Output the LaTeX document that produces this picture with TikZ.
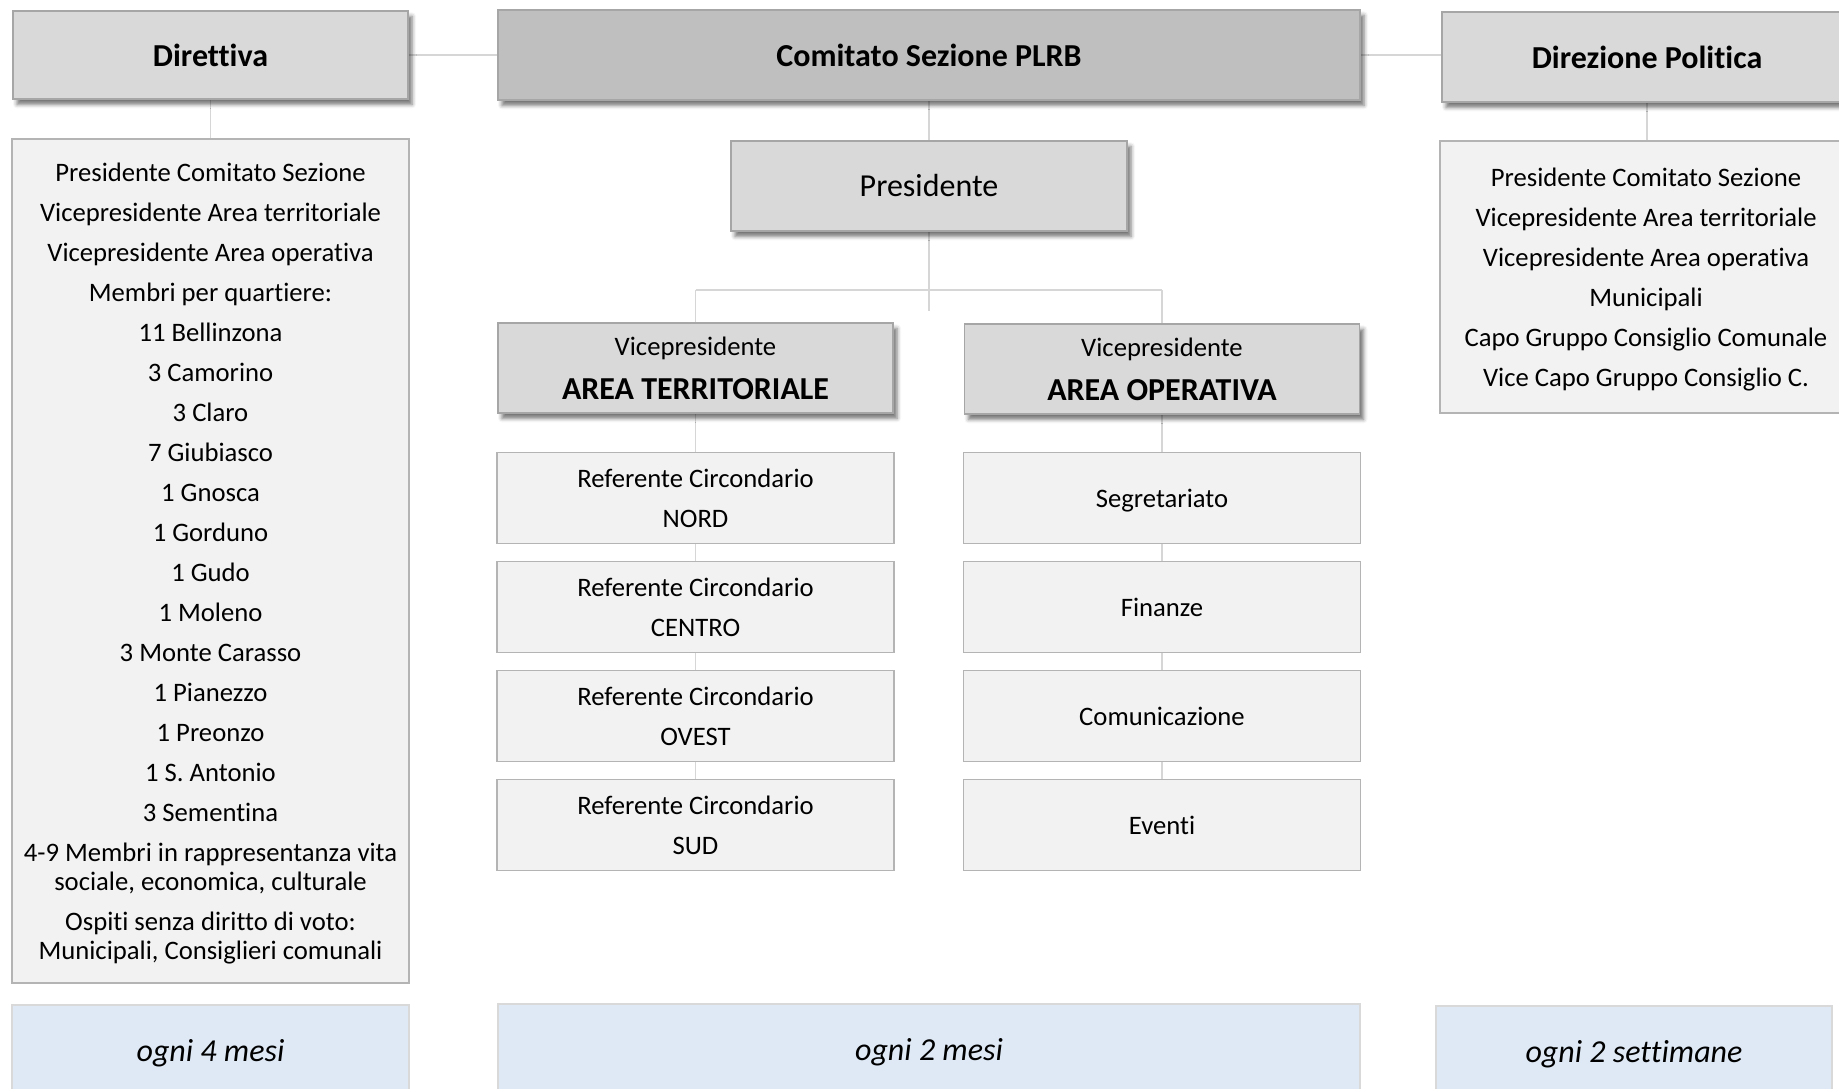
\documentclass[tikz,border=0pt]{standalone}
\usepackage{fontspec}
\setmainfont[RawFeature={-liga;-clig}]{Carlito}
\usetikzlibrary{shadows.blur}
\definecolor{hdr}{HTML}{D9D9D9}
\definecolor{hdrdark}{HTML}{BFBFBF}
\definecolor{innerfill}{HTML}{F2F2F2}
\definecolor{edgegray}{HTML}{A6A6A6}
\definecolor{innergray}{HTML}{B4B4B4}
\definecolor{linkgray}{HTML}{D6D6D6}
\definecolor{freq}{HTML}{DEE9F5}
\definecolor{freqedge}{HTML}{D9D9D9}
\pgfdeclarelayer{bg}
\pgfsetlayers{bg,main}
\begin{document}
\begin{tikzpicture}[x=0.75pt,y=-0.75pt,
  hbox/.style={draw=edgegray, line width=1.1pt, fill=hdr, inner sep=0pt, align=center, text=black,
    blur shadow={shadow xshift=3pt, shadow yshift=-4pt, shadow blur radius=3pt, shadow opacity=55}},
  hfont/.style={font=\fontsize{24}{28}\selectfont\bfseries},
  ibox/.style={draw=innergray, line width=1.1pt, fill=innerfill, inner sep=0pt, align=center, text=black},
  colbox/.style={ibox, minimum width=297.75pt, minimum height=68.25pt, font=\fontsize{20}{30}\selectfont},
  fbox/.style={draw=freqedge, line width=1.1pt, fill=freq, inner sep=0pt, text=black, text depth=0pt,
    minimum height=67.5pt, font=\fontsize{24}{30}\selectfont\itshape},
  conn/.style={draw=linkgray, line width=0.9pt}]
\useasboundingbox (0,0) rectangle (1839,1089);

% headers
\node[hbox, hfont, minimum width=296.25pt, minimum height=66pt] (dir) at (210.5,55) {Direttiva};
\node[hbox, hfont, fill=hdrdark, minimum width=646.5pt, minimum height=67.5pt] (com) at (929,55) {Comitato Sezione PLRB};
\node[hbox, hfont, minimum width=307.5pt, minimum height=67.5pt] (dp) at (1647,57) {Direzione Politica};

% member boxes
\node[ibox, minimum width=297.75pt, minimum height=633pt] (dirbox) at (210.5,561) {};
\node[align=center, inner sep=0pt, text=black, font=\fontsize{20}{21.75}\selectfont] (dirtext) at (210.5,564)
{Presidente Comitato Sezione\\[8.25pt]
 Vicepresidente Area territoriale\\[8.25pt]
 Vicepresidente Area operativa\\[8.25pt]
 Membri per quartiere:\\[8.25pt]
 11 Bellinzona\\[8.25pt]
 3 Camorino\\[8.25pt]
 3 Claro\\[8.25pt]
 7 Giubiasco\\[8.25pt]
 1 Gnosca\\[8.25pt]
 1 Gorduno\\[8.25pt]
 1 Gudo\\[8.25pt]
 1 Moleno\\[8.25pt]
 3 Monte Carasso\\[8.25pt]
 1 Pianezzo\\[8.25pt]
 1 Preonzo\\[8.25pt]
 1 S. Antonio\\[8.25pt]
 3 Sementina\\[8.25pt]
 4-9 Membri in rappresentanza vita\\
 sociale, economica, culturale\\[8.25pt]
 Ospiti senza diritto di voto:\\
 Municipali, Consiglieri comunali};

\node[ibox, minimum width=309pt, minimum height=204pt] (dpbox) at (1646,277) {};
\node[align=center, inner sep=0pt, text=black, font=\fontsize{20}{30}\selectfont] (dptext) at (1646,279.5)
{Presidente Comitato Sezione\\
 Vicepresidente Area territoriale\\
 Vicepresidente Area operativa\\
 Municipali\\
 Capo Gruppo Consiglio Comunale\\
 Vice Capo Gruppo Consiglio C.};

% presidente and vice
\node[hbox, minimum width=297pt, minimum height=67.5pt, font=\fontsize{24}{28}\selectfont] (pres) at (929,186) {Presidente};
\node[hbox, minimum width=296.25pt, minimum height=67.5pt, font=\fontsize{20}{33}\selectfont] (vpt) at (695.5,368)
  {Vicepresidente\\{\fontsize{24}{28}\selectfont\bfseries AREA TERRITORIALE}};
\node[hbox, minimum width=296.25pt, minimum height=67.5pt, font=\fontsize{20}{33}\selectfont] (vpo) at (1162,369)
  {Vicepresidente\\{\fontsize{24}{28}\selectfont\bfseries AREA OPERATIVA}};

% columns
\node[colbox] (nord) at (695.5,498) {Referente Circondario\\NORD};
\node[colbox] (centro) at (695.5,607) {Referente Circondario\\CENTRO};
\node[colbox] (ovest) at (695.5,716) {Referente Circondario\\OVEST};
\node[colbox] (sud) at (695.5,825) {Referente Circondario\\SUD};
\node[colbox, text depth=0pt] (segr) at (1162,498) {Segretariato};
\node[colbox] (fin) at (1162,607) {Finanze};
\node[colbox] (comu) at (1162,716) {Comunicazione};
\node[colbox] (eventi) at (1162,825) {Eventi};

% frequencies
\node[fbox, minimum width=297.75pt] (f1) at (210.5,1050) {ogni 4 mesi};
\node[fbox, minimum width=646.5pt] (f2) at (929,1049) {ogni 2 mesi};
\node[fbox, minimum width=297pt] (f3) at (1634,1051) {ogni 2 settimane};

% connectors
\coordinate (stub) at (929,311);
\coordinate (bl) at (695.5,290);
\coordinate (br) at (1162,290);
\begin{pgfonlayer}{bg}
\draw[conn] (dir.east) -- (dir.east -| com.west);
\draw[conn] (com.east) -- (com.east -| dp.west);
\draw[conn] (dir.south) -- (dirbox.north);
\draw[conn] (dp.south) -- (dp.south |- dpbox.north);
\draw[conn] (com.south) -- (pres.north);
\draw[conn] (pres.south) -- (stub);
\draw[conn] (bl) -- (br);
\draw[conn] (bl) -- (vpt.north);
\draw[conn] (br) -- (vpo.north);
\draw[conn] (vpt.south) -- (nord.north);
\draw[conn] (nord.south) -- (centro.north);
\draw[conn] (centro.south) -- (ovest.north);
\draw[conn] (ovest.south) -- (sud.north);
\draw[conn] (vpo.south) -- (segr.north);
\draw[conn] (segr.south) -- (fin.north);
\draw[conn] (fin.south) -- (comu.north);
\draw[conn] (comu.south) -- (eventi.north);
\end{pgfonlayer}
\end{tikzpicture}
\end{document}
